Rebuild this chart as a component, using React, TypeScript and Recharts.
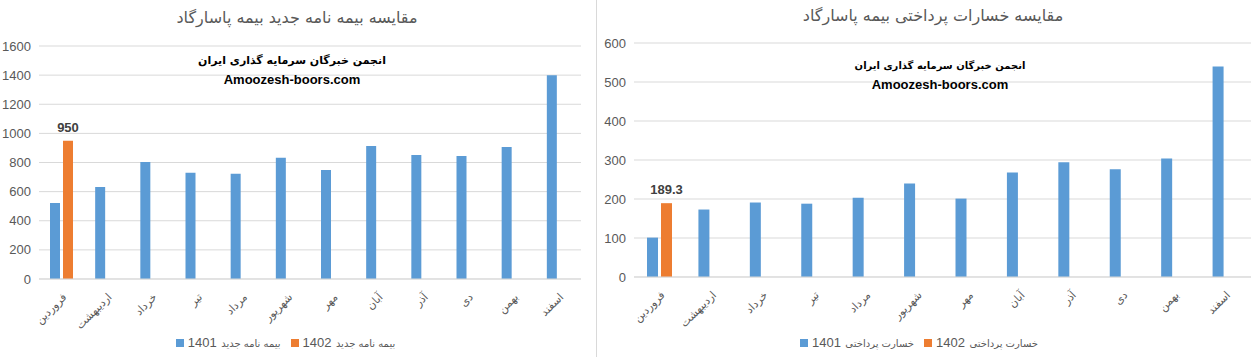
import React from "react";
import { Bar, BarChart, CartesianGrid, LabelList, Legend, XAxis, YAxis } from "recharts";

const MONTHS = ["فروردین", "اردیبهشت", "خرداد", "تیر", "مرداد", "شهریور", "مهر", "آبان", "آذر", "دی", "بهمن", "اسفند"];

const NEW_POLICIES_1401 = [522, 632, 804, 729, 722, 832, 749, 914, 852, 845, 907, 1400];
const NEW_POLICIES_1402: (number | null)[] = [950, null, null, null, null, null, null, null, null, null, null, null];
const NEW_POLICIES_TICKS = [0, 200, 400, 600, 800, 1000, 1200, 1400, 1600];

const CLAIMS_1401 = [101, 173, 191, 188, 203, 240, 201, 268, 294, 276, 304, 540];
const CLAIMS_1402: (number | null)[] = [189.3, null, null, null, null, null, null, null, null, null, null, null];
const CLAIMS_TICKS = [0, 100, 200, 300, 400, 500, 600];

const BLUE = "#5B9BD5";
const ORANGE = "#ED7D31";
const GRID = "#D9D9D9";
const TEXT = "#595959";
const FONT = "'Liberation Sans', 'DejaVu Sans', sans-serif";
const PERSIAN = "'DejaVu Sans', sans-serif";

const WATERMARK_FA = "انجمن خبرگان سرمایه گذاری ایران";
const WATERMARK_EN = "Amoozesh-boors.com";

const MonthTick = (props: any) => {
  const { x, payload, axisY } = props;
  return (
    <g transform={`translate(${x + 3},${axisY + 16})`}>
      <text textAnchor="end" transform="rotate(-45)" dy="0.35em" fontSize={11} fill={TEXT} fontFamily={PERSIAN}>
        {payload.value}
      </text>
    </g>
  );
};

const TopLabel = (props: any) => {
  const { x, y, width, value } = props;
  if (value == null) return null;
  return (
    <text x={x + width / 2} y={y - 9} textAnchor="middle" fontSize={13} fontWeight="bold" fill="#404040" fontFamily={FONT}>
      {value}
    </text>
  );
};

const legendText = (value: string) => {
  const [year, ...rest] = value.split(" ");
  return (
    <span style={{ color: TEXT, fontFamily: FONT }}>
      <span style={{ fontSize: 13 }}>{year}</span>{" "}
      <span style={{ fontSize: 10, fontFamily: PERSIAN }}>{rest.join(" ")}</span>
    </span>
  );
};

function ComparisonChart(props: {
  width: number;
  title: string;
  label: string;
  s1401: number[];
  s1402: (number | null)[];
  ticks: number[];
  top: number;
  yWidth: number;
  right: number;
  barSize: number;
  xAxisH: number;
  titleTop: number;
  titleCenter: number;
  markTop: number;
  markCenter: number;
  markSize: number;
}) {
  const height = 357;
  const data = MONTHS.map((m, i) => ({ month: m, a: props.s1401[i], b: props.s1402[i] }));
  const legendH = 20;
  const bottom = 5;
  const plotBottom = height - bottom - legendH - props.xAxisH;
  return (
    <div style={{ position: "relative", width: props.width, height }}>
      <div
        style={{
          position: "absolute",
          top: props.titleTop,
          left: props.titleCenter - 200,
          width: 400,
          textAlign: "center",
          fontFamily: PERSIAN,
          fontSize: 16,
          color: TEXT,
          direction: "rtl",
        }}
      >
        {props.title}
      </div>
      <div
        style={{
          position: "absolute",
          top: props.markTop,
          left: props.markCenter - 150,
          width: 300,
          textAlign: "center",
          color: "#000",
          fontWeight: "bold",
          lineHeight: "19px",
          zIndex: 2,
        }}
      >
        <div style={{ fontFamily: PERSIAN, fontSize: props.markSize, direction: "rtl" }}>{WATERMARK_FA}</div>
        <div style={{ fontFamily: FONT, fontSize: 13 }}>{WATERMARK_EN}</div>
      </div>
      <BarChart
        width={props.width}
        height={height}
        data={data}
        margin={{ top: props.top, right: props.right, bottom, left: 0 }}
        barSize={props.barSize}
        barGap={3}
      >
        <CartesianGrid vertical={false} stroke={GRID} />
        <XAxis
          dataKey="month"
          height={props.xAxisH}
          axisLine={{ stroke: GRID }}
          tickLine={false}
          interval={0}
          tick={<MonthTick axisY={plotBottom} />}
        />
        <YAxis
          width={props.yWidth}
          domain={[props.ticks[0], props.ticks[props.ticks.length - 1]]}
          ticks={props.ticks}
          axisLine={false}
          tickLine={false}
          tick={{ fontSize: 13, fill: TEXT, fontFamily: FONT }}
        />
        <Legend
          verticalAlign="bottom"
          iconType="square"
          iconSize={8}
          wrapperStyle={{ height: legendH, lineHeight: "20px" }}
          formatter={legendText}
        />
        <Bar dataKey="a" name={`1401 ${props.label}`} fill={BLUE} isAnimationActive={false} />
        <Bar dataKey="b" name={`1402 ${props.label}`} fill={ORANGE} isAnimationActive={false}>
          <LabelList dataKey="b" content={<TopLabel />} />
        </Bar>
      </BarChart>
    </div>
  );
}

export default function App() {
  return (
    <div
      style={{
        position: "absolute",
        top: 0,
        left: 0,
        width: 1254,
        height: 357,
        background: "#fff",
        display: "flex",
      }}
    >
      <ComparisonChart
        width={596}
        title="مقایسه بیمه نامه جدید بیمه پاسارگاد"
        label="بیمه نامه جدید"
        s1401={NEW_POLICIES_1401}
        s1402={NEW_POLICIES_1402}
        ticks={NEW_POLICIES_TICKS}
        top={46}
        yWidth={39}
        right={15}
        barSize={10}
        xAxisH={53}
        titleTop={8}
        titleCenter={297}
        markTop={51}
        markCenter={292}
        markSize={11}
      />
      <div style={{ width: 1, height: 357, background: GRID }} />
      <ComparisonChart
        width={657}
        title="مقایسه خسارات پرداختی بیمه پاسارگاد"
        label="خسارت پرداختی"
        s1401={CLAIMS_1401}
        s1402={CLAIMS_1402}
        ticks={CLAIMS_TICKS}
        top={43}
        yWidth={37}
        right={3}
        barSize={11}
        xAxisH={55}
        titleTop={6}
        titleCenter={336}
        markTop={56}
        markCenter={343}
        markSize={10}
      />
    </div>
  );
}
